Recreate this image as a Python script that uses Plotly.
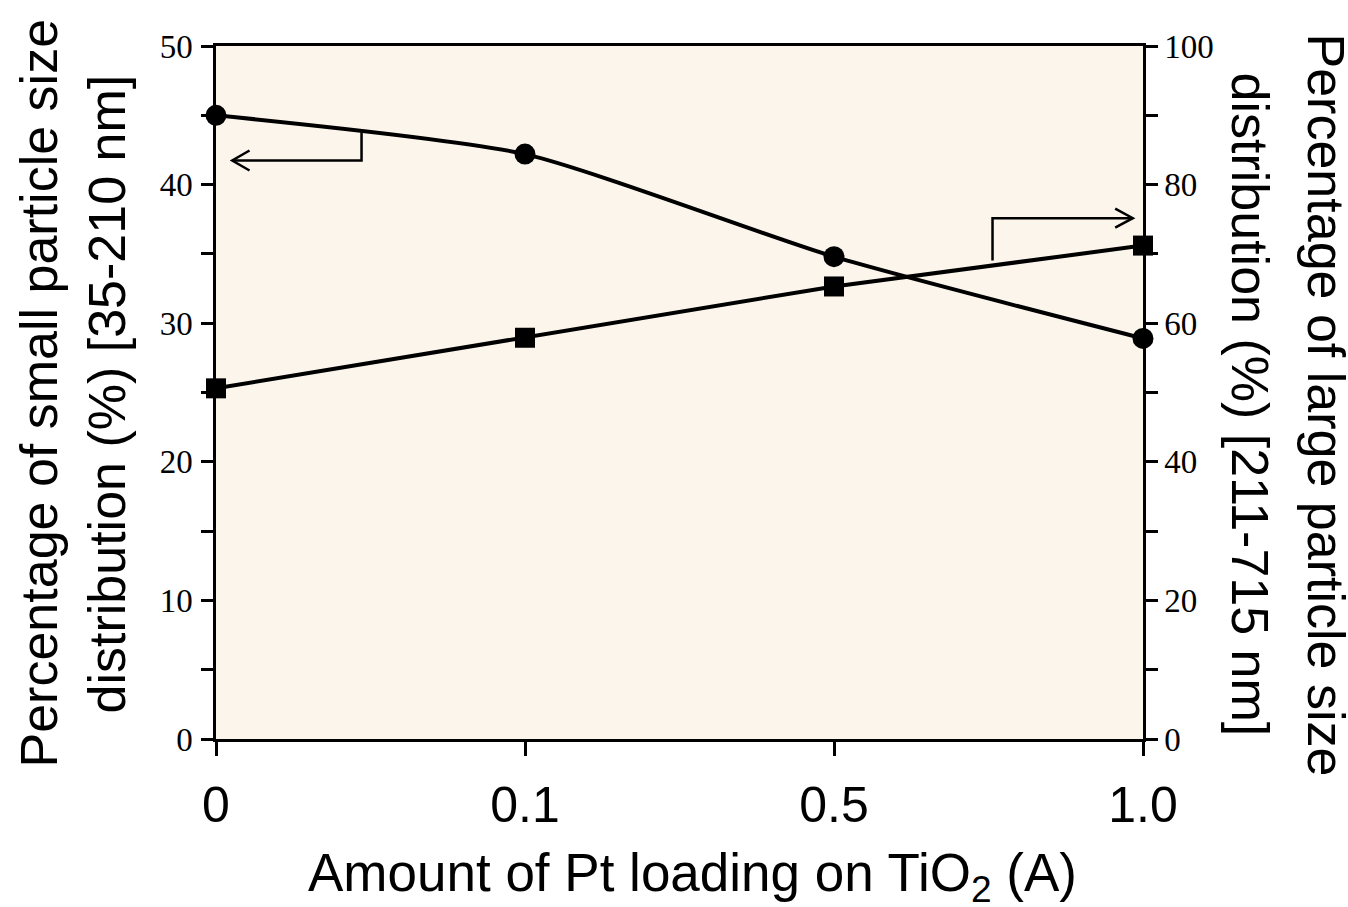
import plotly.graph_objects as go

# ---- data ----
categories = ["0", "0.1", "0.5", "1.0"]
x_pos = [0, 1, 2, 3]
small_pct = [45.0, 42.2, 34.8, 28.9]      # left axis, circles
large_pct = [50.6, 57.9, 65.3, 71.2]      # right axis, squares
left_ticks = [0, 10, 20, 30, 40, 50]
right_ticks = [0, 20, 40, 60, 80, 100]

TICKFONT = dict(family="Liberation Serif, Times New Roman, serif", size=33, color="black")
TITLEFONT = dict(family="Liberation Sans, Arial, sans-serif", size=52, color="black")

fig = go.Figure()
fig.add_trace(go.Scatter(
    x=x_pos, y=small_pct, mode="lines+markers",
    line=dict(color="black", width=4, shape="spline", smoothing=0.6),
    marker=dict(symbol="circle", size=21, color="black"),
    cliponaxis=False, yaxis="y", showlegend=False))
fig.add_trace(go.Scatter(
    x=x_pos, y=large_pct, mode="lines+markers",
    line=dict(color="black", width=4),
    marker=dict(symbol="square", size=20, color="black"),
    cliponaxis=False, yaxis="y2", showlegend=False))

axis_common = dict(showgrid=False, zeroline=False, linecolor="black", linewidth=2.5,
                   ticks="outside", tickcolor="black", tickwidth=2.5)

fig.update_layout(
    width=1348, height=907,
    margin=dict(l=216, r=205, t=46, b=168),
    paper_bgcolor="white", plot_bgcolor="#FBF5EC",
    xaxis=dict(**axis_common, range=[0, 3], tickvals=x_pos, ticktext=categories,
               ticklen=14, tickfont=dict(family="Liberation Sans, Arial, sans-serif", size=50, color="black"),
               mirror=True, ticklabelstandoff=6),
    yaxis=dict(**axis_common, range=[0, 50], tickvals=left_ticks, ticklen=12,
               tickfont=TICKFONT, ticklabelstandoff=2,
               minor=dict(dtick=5, ticks="outside", ticklen=12, tickwidth=2.5, tickcolor="black")),
    yaxis2=dict(**axis_common, range=[0, 100], tickvals=right_ticks, ticklen=12,
                tickfont=TICKFONT, overlaying="y", side="right", ticklabelstandoff=0,
                minor=dict(dtick=10, ticks="outside", ticklen=12, tickwidth=2.5, tickcolor="black")),
)

# axis titles as annotations
fig.add_annotation(text="Percentage of small particle size", xref="paper", yref="paper",
                   x=0, y=0.5, xanchor="center", yanchor="middle", xshift=-178, yshift=-1,
                   textangle=-90, showarrow=False, font=TITLEFONT)
fig.add_annotation(text="distribution (%) [35-210 nm]", xref="paper", yref="paper",
                   x=0, y=0.5, xanchor="center", yanchor="middle", xshift=-110, yshift=-2,
                   textangle=-90, showarrow=False, font=TITLEFONT)
fig.add_annotation(text="Percentage of large particle size", xref="paper", yref="paper",
                   x=1, y=0.5, xanchor="center", yanchor="middle", xshift=183, yshift=-12,
                   textangle=90, showarrow=False, font=TITLEFONT)
fig.add_annotation(text="distribution (%) [211-715 nm]", xref="paper", yref="paper",
                   x=1, y=0.5, xanchor="center", yanchor="middle", xshift=107, yshift=-12,
                   textangle=90, showarrow=False, font=TITLEFONT)
fig.add_annotation(text="Amount of Pt loading on TiO<sub>2</sub> (A)", xref="paper", yref="paper",
                   x=0.5, y=0, xanchor="center", yanchor="middle", xshift=13, yshift=-137,
                   showarrow=False, font=dict(family="Liberation Sans, Arial, sans-serif", size=53, color="black"))

# indicator arrows
arrow_line = dict(color="black", width=2.5)
fig.add_shape(type="path", xref="x", yref="y", line=arrow_line,
              path="M 0.471,43.78 L 0.471,41.74 L 0.0525,41.74")
fig.add_shape(type="path", xref="x", yref="y", line=arrow_line,
              path="M 0.1085,42.46 L 0.0525,41.74 L 0.1085,41.02")
fig.add_shape(type="path", xref="x", yref="y", line=arrow_line,
              path="M 2.513,34.52 L 2.513,37.58 L 2.967,37.58")
fig.add_shape(type="path", xref="x", yref="y", line=arrow_line,
              path="M 2.910,38.27 L 2.967,37.58 L 2.910,36.89")

fig.write_html("out.html", config={"displayModeBar": False},
               post_script="document.body.style.margin='0px';")
